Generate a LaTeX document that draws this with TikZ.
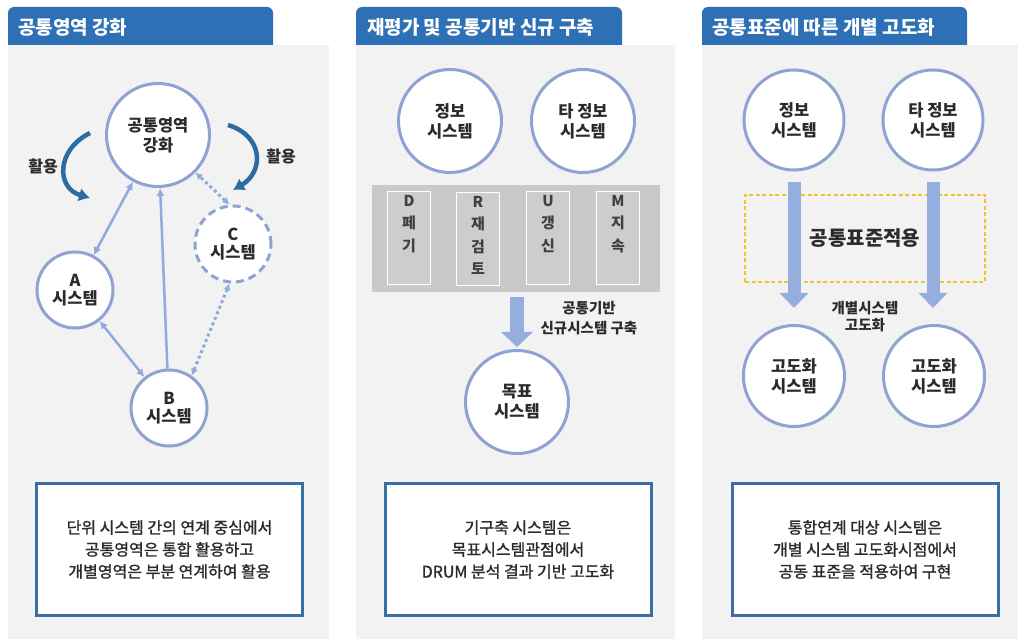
\documentclass[tikz,border=0pt]{standalone}
\usepackage{fontspec}
\setmainfont{Noto Sans CJK KR}
\newfontfamily\medfont{Noto Sans CJK KR}[FakeBold=1.3]
\usetikzlibrary{arrows.meta,calc}
\definecolor{hdr}{HTML}{2E70B5}
\definecolor{panelbg}{HTML}{F2F2F2}
\definecolor{ring}{HTML}{8FA2D3}
\definecolor{link}{HTML}{8FAADC}
\definecolor{curve}{HTML}{2D6BA3}
\definecolor{bandgray}{HTML}{C9C9C9}
\definecolor{subgray}{HTML}{CDCDCD}
\definecolor{boxline}{HTML}{3B6EA6}
\definecolor{txt}{HTML}{2B2B2B}
\definecolor{gold}{HTML}{F2C230}
\definecolor{blockarrow}{HTML}{94AEDD}
\begin{document}
\begin{tikzpicture}[x=1pt,y=-1pt,
  hdrtext/.style={text=white, font=\fontsize{19}{21}\selectfont\bfseries, inner sep=0, anchor=west},
  sys/.style={circle, draw=ring, line width=3pt, fill=white, minimum size=#1, inner sep=0, align=center,
     font=\fontsize{16.5}{20}\selectfont\bfseries, text=txt},
  linkarr/.style={draw=link, line width=2.5pt, {Latex[length=8pt,width=8pt]}-{Latex[length=8pt,width=8pt]}},
  uparr/.style={draw=link, line width=2.5pt, -{Latex[length=8pt,width=8pt]}},
  dotarr/.style={draw=link, line width=3pt, dash pattern=on 3pt off 3pt, {Latex[length=7pt,width=7pt]}-{Latex[length=7pt,width=7pt]}},
  usearr/.style={draw=curve, line width=4.5pt, -{Latex[length=11pt,width=14pt]}},
  lbl/.style={font=\fontsize{16}{19}\selectfont\bfseries, text=txt, align=center, inner sep=0},
  smalllbl/.style={font=\fontsize{14.5}{20}\selectfont\bfseries, text=txt, align=center, inner sep=0},
  subbox/.style={draw=white, line width=1.5pt, fill=subgray, minimum width=43pt, minimum height=93pt, inner sep=0},
  subtxt/.style={font=\fontsize{15}{22.5}\selectfont\bfseries, text=black!75, align=center, inner sep=0, anchor=north},
  blockarr/.style={draw=blockarrow, line width=14pt, -{Triangle[length=15pt,width=31pt]}},
  goldbox/.style={draw=gold, line width=1.3pt, dash pattern=on 4pt off 2.5pt, minimum width=240pt, minimum height=87pt,
     font=\fontsize{20}{22}\selectfont\bfseries, text=txt},
  descbox/.style={draw=boxline, line width=3pt, fill=white, minimum width=266pt, minimum height=132pt, align=center,
     font=\fontsize{16}{22}\medfont, text=txt}
]
\useasboundingbox (0,0) rectangle (1021,639);
\fill[white] (0,0) rectangle (1021,639);
% panels
\fill[hdr, rounded corners=6pt] (8,7) rectangle (273,60);
\fill[hdr, rounded corners=6pt] (356,7) rectangle (622,60);
\fill[hdr, rounded corners=6pt] (702,7) rectangle (967,60);
\fill[panelbg] (8,45) rectangle (329,639);
\fill[panelbg] (356,45) rectangle (675,639);
\fill[panelbg] (702,45) rectangle (1018,639);
\node[hdrtext] (h1) at (18,27) {공통영역 강화};
\node[hdrtext] (h2) at (367,27) {재평가 및 공통기반 신규 구축};
\node[hdrtext] (h3) at (712,27) {공통표준에 따른 개별 고도화};

% ---------- panel 1 ----------
\node[sys=103] (core) at (158,135) {공통영역\\강화};
\node[sys=76, font=\fontsize{16.5}{18.5}\selectfont\bfseries] (A) at (75,290) {A\\시스템};
\node[sys=76, font=\fontsize{16.5}{18.5}\selectfont\bfseries] (B) at (169,408) {B\\시스템};
\node[sys=76, dash pattern=on 8pt off 5pt, font=\fontsize{16.5}{18.5}\selectfont\bfseries] (C) at (233,244) {C\\시스템};
\draw[linkarr] (A) -- (core);
\draw[linkarr] (A) -- (B);
\draw[uparr] (B) -- (core);
\draw[dotarr] (C.95) -- (core.-45);
\draw[dotarr] (C.-95) -- (B.55);
\coordinate (ul1) at (90,133);
\coordinate (ul2) at (90,198);
\coordinate (ur1) at (228,125);
\coordinate (ur2) at (233,190);
\draw[usearr] (ul1) .. controls (56,150) and (56,188) .. (ul2);
\draw[usearr] (ur1) .. controls (264,136) and (264,172) .. (ur2);
\node[lbl] (use1) at (43,166) {활용};
\node[lbl] (use2) at (281,156) {활용};

% ---------- panel 2 ----------
\node[sys=103] (info2) at (450,121) {정보\\시스템};
\node[sys=103] (other2) at (583,121) {타 정보\\시스템};
\node[fill=bandgray, minimum width=288pt, minimum height=107pt, inner sep=0] (band) at (516,238.5) {};
\node[subbox] (sd) at (409,238) {};
\node[subbox] (sr) at (478,239) {};
\node[subbox] (su) at (548,238) {};
\node[subbox] (sm) at (618,238) {};
\node[subtxt] (td) at ($(sd.north)+(0,4)$) {D\\페\\기};
\node[subtxt] (tr) at ($(sr.north)+(0,4)$) {R\\재\\검\\토};
\node[subtxt] (tu) at ($(su.north)+(0,4)$) {U\\갱\\신};
\node[subtxt] (tm) at ($(sm.north)+(0,4)$) {M\\지\\속};
\node[sys=103] (goal) at (517,402) {목표\\시스템};
\draw[blockarr, shorten <=5pt, shorten >=2pt] (band.south -| goal) -- (goal.north);
\node[smalllbl] (l2) at (589,318) {공통기반\\신규시스템 구축};

% ---------- panel 3 ----------
\node[sys=100] (info3) at (794,120) {정보\\시스템};
\node[sys=100] (other3) at (933,120) {타 정보\\시스템};
\node[goldbox] (std) at (865,238.5) {공통표준적용};
\node[sys=101] (adv1) at (794,376) {고도화\\시스템};
\node[sys=101] (adv2) at (934,376) {고도화\\시스템};
\draw[blockarr, line width=13pt, -{Triangle[length=15pt,width=28pt]}, shorten <=11pt, shorten >=16pt] (info3.south) -- (adv1.north -| info3.south);
\draw[blockarr, line width=13pt, -{Triangle[length=15pt,width=28pt]}, shorten <=11pt, shorten >=16pt] (other3.south) -- (adv2.north -| other3.south);
\node[smalllbl, font=\fontsize{14.5}{17.5}\selectfont\bfseries] (l3) at (865,316.5) {개별시스템\\고도화};

% ---------- description boxes ----------
\node[descbox] (t1) at (169.5,549.5) {단위 시스템 간의 연계 중심에서\\공통영역은 통합 활용하고\\개별영역은 부분 연계하여 활용};
\node[descbox] (t2) at (518,549.5) {기구축 시스템은\\목표시스템관점에서\\DRUM 분석 결과 기반 고도화};
\node[descbox] (t3) at (865,549.5) {통합연계 대상 시스템은\\개별 시스템 고도화시점에서\\공동 표준을 적용하여 구현};
\end{tikzpicture}
\end{document}
